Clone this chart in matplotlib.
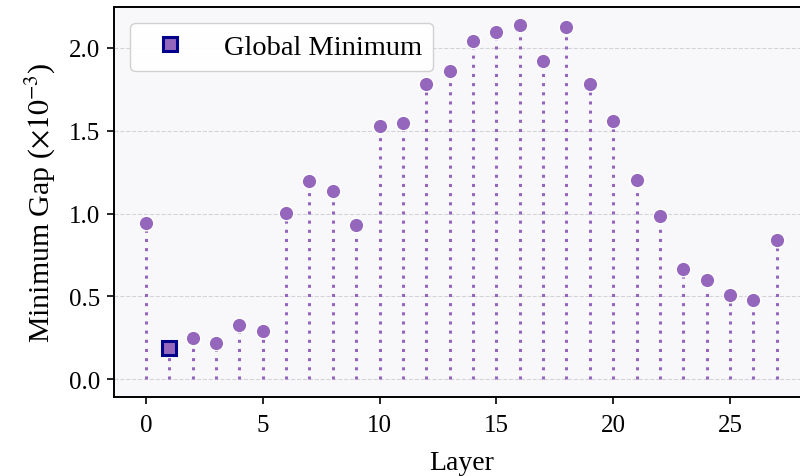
import numpy as np
import matplotlib
matplotlib.use("Agg")
import matplotlib.pyplot as plt

# minimum gap per layer (x 1e-3)
layers = list(range(28))
min_gap = [0.94, 0.186, 0.247, 0.217, 0.33, 0.29, 1.006, 1.199, 1.137, 0.93,
           1.527, 1.547, 1.78, 1.858, 2.04, 2.097, 2.139, 1.918, 2.125, 1.784,
           1.557, 1.20, 0.988, 0.667, 0.60, 0.509, 0.477, 0.838]

plt.rcParams["font.family"] = ["Liberation Serif", "DejaVu Serif"]
plt.rcParams["mathtext.fontset"] = "stix"

purple = "#9467bd"

fig = plt.figure(figsize=(8, 4.77), dpi=100)
ax = fig.add_axes([0.1429, 0.1656, 0.8675, 0.8176])
ax.set_facecolor("#f8f8fb")

# dotted stems from zero up to each point
ax.vlines(layers, 0, min_gap, colors=purple, linewidth=2.2,
          linestyles=(0, (1, 2)), zorder=2)
ax.plot(layers, min_gap, "o", color=purple, markersize=10.5,
        markeredgecolor="white", markeredgewidth=1, zorder=3)

# highlight the global minimum
i_min = int(np.argmin(min_gap))
ax.plot(layers[i_min], min_gap[i_min], "s", color=purple, markersize=10,
        markeredgecolor="#00008b", markeredgewidth=2.2, zorder=4,
        label="Global Minimum", linestyle="none")

ax.set_xlim(-1.35, 28.35)
ax.set_ylim(-0.107, max(min_gap) * 1.05)
ax.set_xticks([0, 5, 10, 15, 20, 25])
ax.set_yticks([0.0, 0.5, 1.0, 1.5, 2.0])
ax.yaxis.grid(True, linestyle="--", color="#d4d4d8", linewidth=0.8)
ax.set_axisbelow(True)

for s in ax.spines.values():
    s.set_linewidth(1.4)
ax.tick_params(labelsize=18, width=1.2, length=5, pad=5)
ax.tick_params(axis="x", pad=7)

ax.set_xlabel("Layer", fontsize=20, labelpad=10)
ax.set_ylabel(r"Minimum Gap ($\times 10^{-3}$)", fontsize=21.5, labelpad=8)

leg = ax.legend(loc="upper left", fontsize=20.5, handletextpad=0.9,
                borderpad=0.4, fancybox=True, framealpha=0.9,
                edgecolor="#cccccc", borderaxespad=0.55)

fig.savefig("out.png", dpi=100)
